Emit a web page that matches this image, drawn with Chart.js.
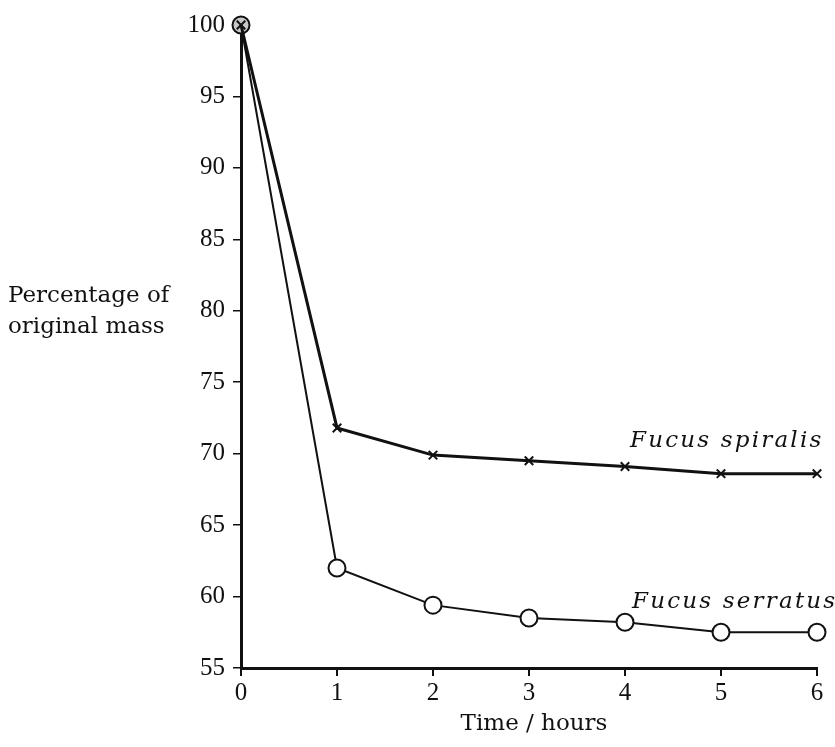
<!DOCTYPE html>
<html>
<head>
<meta charset="utf-8">
<script src="https://cdn.jsdelivr.net/npm/chart.js@4"></script>
<style>
  html, body { margin: 0; padding: 0; background: #fff; }
  #wrap { width: 835px; height: 747px; }
</style>
</head>
<body>
<div id="wrap"><canvas id="chart" width="835" height="747"></canvas></div>
<script>
// --- DATA ---
const hours = [0, 1, 2, 3, 4, 5, 6];
const spiralis = [100, 71.8, 69.9, 69.5, 69.1, 68.6, 68.6];
const serratus = [100, 62.0, 59.4, 58.5, 58.2, 57.5, 57.5];
const yTicks = [55, 60, 65, 70, 75, 80, 85, 90, 95, 100];
const FONT = "'Liberation Serif', 'Times New Roman', serif";
const TEXT_FONT = "'DejaVu Serif', serif";

const toPoints = (vals) => hours.map((h, i) => ({ x: h, y: vals[i] }));

// text labels drawn straight on the canvas
const labelsPlugin = {
    id: 'labels',
    afterDraw(chart) {
        const ctx = chart.ctx;
        const y = chart.scales.y;
        const area = chart.chartArea;
        ctx.save();
        ctx.fillStyle = '#111';
        ctx.textBaseline = 'alphabetic';

        // y axis title, horizontal on the left
        ctx.font = `23px ${TEXT_FONT}`;
        ctx.textAlign = 'left';
        ctx.fillText('Percentage of', 8, 302);
        ctx.fillText('original mass', 8, 333);

        // x axis title
        ctx.textAlign = 'center';
        ctx.fillText('Time / hours', (area.left + area.right) / 2 + 5, 730);

        // series names
        ctx.font = `italic 23px ${TEXT_FONT}`;
        ctx.letterSpacing = '2.2px';
        ctx.textAlign = 'left';
        ctx.fillText('Fucus spiralis', 630, y.getPixelForValue(spiralis[6]) - 27);
        ctx.fillText('Fucus serratus', 632, y.getPixelForValue(serratus[6]) - 24);
        ctx.restore();
    }
};

new Chart(document.getElementById('chart'), {
    type: 'line',
    data: {
        datasets: [
            {
                label: 'Fucus spiralis',
                data: toPoints(spiralis),
                borderColor: '#111',
                borderWidth: 3,
                pointStyle: 'crossRot',
                pointRadius: 6,
                pointBorderWidth: 2,
                pointBorderColor: '#111',
                tension: 0
            },
            {
                label: 'Fucus serratus',
                data: toPoints(serratus),
                borderColor: '#111',
                borderWidth: 2,
                pointStyle: 'circle',
                pointRadius: 8.5,
                pointBorderWidth: 2,
                pointBorderColor: '#111',
                pointBackgroundColor: hours.map((h) => h === 0 ? '#c8c8c8' : '#fff'),
                tension: 0
            }
        ]
    },
    options: {
        responsive: false,
        animation: false,
        clip: false,
        layout: { padding: { top: 25, right: 18, left: 0, bottom: 0 } },
        plugins: { legend: { display: false }, tooltip: { enabled: false } },
        scales: {
            x: {
                type: 'linear',
                min: 0,
                max: 6,
                afterFit: (s) => { s.height = 79; },
                afterBuildTicks: (s) => { s.ticks = hours.map((v) => ({ value: v })); },
                border: { color: '#111', width: 3 },
                grid: { drawOnChartArea: false, drawTicks: true, tickLength: 8, color: '#111', lineWidth: 2 },
                ticks: { color: '#111', padding: 2, font: { family: FONT, size: 25 }, maxRotation: 0 }
            },
            y: {
                min: 55,
                max: 100,
                afterFit: (s) => { s.width = 241; },
                afterBuildTicks: (s) => { s.ticks = yTicks.map((v) => ({ value: v })); },
                border: { color: '#111', width: 3 },
                grid: { drawOnChartArea: false, drawTicks: true, tickLength: 8, color: '#111', lineWidth: 1.5 },
                ticks: { color: '#111', padding: 8, font: { family: FONT, size: 25 } }
            }
        }
    },
    plugins: [labelsPlugin]
});
</script>
</body>
</html>
